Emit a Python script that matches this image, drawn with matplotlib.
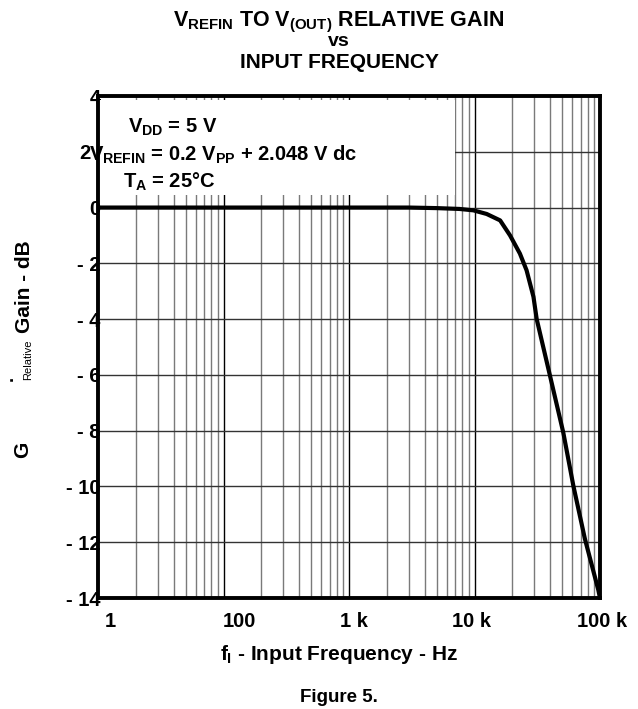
import numpy as np
import matplotlib
matplotlib.use('Agg')
import matplotlib.pyplot as plt
import matplotlib.transforms as mtransforms
from matplotlib.patches import Rectangle

plt.rcParams['font.family'] = ['Liberation Sans', 'DejaVu Sans']
plt.rcParams['font.weight'] = 'bold'
plt.rcParams['mathtext.fontset'] = 'custom'
plt.rcParams['mathtext.rm'] = 'Liberation Sans:bold'
plt.rcParams['mathtext.it'] = 'Liberation Sans:bold'
plt.rcParams['mathtext.bf'] = 'Liberation Sans:bold'

# Datos
frecuencia = [10, 100, 1000, 3000, 5000, 7600, 9800, 12500, 16000, 19200,
              23000, 26000, 29500, 31300, 40000, 51000, 61300, 75800, 96800,
              100000]
ganancia = [0, 0, 0, 0, -0.02, -0.05, -0.1, -0.23, -0.46, -1.0,
            -1.65, -2.25, -3.2, -4.0, -6.04, -8.07, -9.97, -11.88, -13.7,
            -14.0]

xticks = [10, 100, 1000, 10000, 100000]
xtick_labels = ['1', '100', '1 k', '10 k', '100 k']
yticks = [4, 2, 0, -2, -4, -6, -8, -10, -12, -14]
ytick_labels = ['4', '2', '0', '- 2', '- 4', '- 6', '- 8', '- 10', '- 12', '- 14']

W, H = 638, 709
fig = plt.figure(figsize=(W / 100, H / 100), dpi=100)
ax = fig.add_axes([98 / W, 1 - 598 / H, (600 - 98) / W, (598 - 96) / H])

ax.set_xscale('log')
ax.set_xlim(10, 100000)
ax.set_ylim(-14, 4)

# Rejilla
minor = [m * 10 ** d for d in range(1, 5) for m in range(2, 10)]
for xv in minor:
    ax.axvline(xv, color='#7a7a7a', lw=1.0, zorder=1)
for xv in xticks[1:-1]:
    ax.axvline(xv, color='black', lw=1.0, zorder=1)
for yv in yticks[1:-1]:
    ax.axhline(yv, color='#333333', lw=1.0, zorder=1)

# Caja blanca de la anotacion
ax.add_patch(Rectangle((10, 0.45), 7000 - 10, 3.85 - 0.45, facecolor='white',
                       edgecolor='none', zorder=2))

ax.plot(frecuencia, ganancia, color='black', lw=3.0, zorder=3,
        solid_capstyle='butt', solid_joinstyle='round')

ax.set_xticks(xticks)
ax.set_xticklabels(xtick_labels)
ax.xaxis.set_minor_locator(matplotlib.ticker.NullLocator())
ax.set_yticks(yticks)
ax.set_yticklabels(ytick_labels)
ax.tick_params(length=0, labelsize=14.5, pad=-2)
ax.tick_params(axis='x', pad=10)


def mover(lab, dx):
    lab.set_transform(lab.get_transform() +
                      mtransforms.ScaledTranslation(dx / 100, 0,
                                                    fig.dpi_scale_trans))


# desplazamiento horizontal de cada etiqueta del eje x (pixeles)
desplaz = [12, 16, 5, -3, 2]
for lab, dx in zip(ax.get_xticklabels(), desplaz):
    mover(lab, dx)
# el "2" del eje y queda a la izquierda del texto
mover(ax.get_yticklabels()[1], -10)

for s in ax.spines.values():
    s.set_linewidth(2.8)
    s.set_zorder(5)


def ft(x, y, s, **kw):
    fig.text(x / W, 1 - y / H, s, **kw)


# Titulo
ft(339, 22, r'$V_{REFIN}$ TO $V_{(OUT)}$ RELATIVE GAIN', ha='center',
   va='center', fontsize=15.5)
ft(339, 42, 'vs', ha='center', va='center', fontsize=14)
ft(339, 63, 'INPUT FREQUENCY', ha='center', va='center', fontsize=15)

# Anotaciones
ft(128, 127, r'$V_{DD}$ = 5 V', ha='left', va='center', fontsize=14.5,
   zorder=6)
ft(89, 155, r'$V_{REFIN}$ = 0.2 $V_{PP}$ + 2.048 V dc', ha='left',
   va='center', fontsize=14.5, zorder=6)
ft(123, 182, r'$T_A$ = 25°C', ha='left', va='center', fontsize=14.5,
   zorder=6)

# Etiqueta del eje y
ft(25, 287, 'Gain - dB', rotation=90, ha='center', va='center', fontsize=15)
ft(28, 360, 'Relative', rotation=90, ha='center', va='center', fontsize=8,
   fontweight='normal', family=['Liberation Sans Narrow', 'Liberation Sans'])
ft(8, 378, '.', rotation=90, ha='center', va='center', fontsize=13)
ft(23, 450, 'G', rotation=90, ha='center', va='center', fontsize=15)

# Etiqueta del eje x
ft(339, 655, r'$f_I$ - Input Frequency - Hz', ha='center', va='center',
   fontsize=15)
ft(339, 698, 'Figure 5.', ha='center', va='center', fontsize=13.5)

fig.savefig('out.png', dpi=100)
